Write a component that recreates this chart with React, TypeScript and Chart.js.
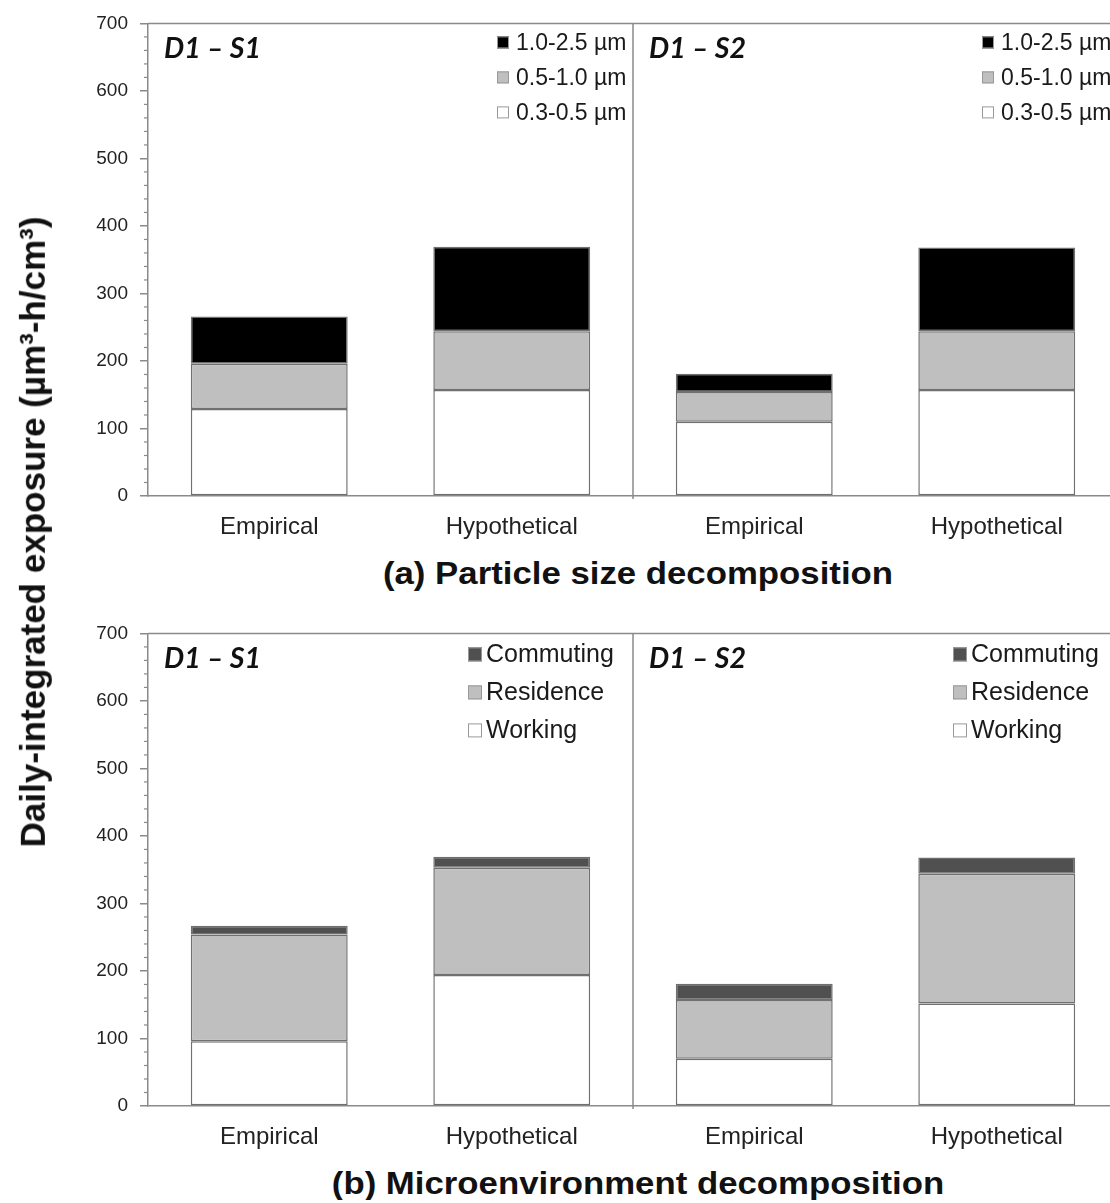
import React, { useEffect, useRef } from 'react';
import { Chart, registerables } from 'chart.js';

Chart.register(...registerables);

// ---------- data ----------
const categories = ['Empirical', 'Hypothetical', 'Empirical', 'Hypothetical'];
const sectionLabels = ['D1 – S1', 'D1 – S2'];

const sizeLabels = ['0.3-0.5 µm', '0.5-1.0 µm', '1.0-2.5 µm'];
const size03to05 = [129, 157, 110, 157];
const size05to10 = [67, 87, 44, 87];
const size10to25 = [70, 125, 27, 124];

const envLabels = ['Working', 'Residence', 'Commuting'];
const working = [96, 194, 70, 152];
const residence = [158, 159, 87, 192];
const commuting = [13, 16, 24, 24];

const yMin = 0;
const yMax = 700;
const yMajorStep = 100;
const yMinorStep = 20;

const panelTitles = ['(a) Particle size decomposition', '(b) Microenvironment decomposition'];
const yAxisTitle = 'Daily-integrated exposure (µm³-h/cm³)';

// ---------- styles ----------
const SANS = "'Liberation Sans', Arial, sans-serif";
const AXIS_GREY = '#8a8a8a';
const BAR_BORDER = '#707070';
const sizeColors = ['#ffffff', '#bfbfbf', '#000000'];
const envColors = ['#ffffff', '#bfbfbf', '#505050'];

interface LegendCfg {
  offsetFromRight: number;
  box: number;
  fontSize: number;
  firstRowY: number;
  rowGap: number;
  textGap: number;
}

const decorPlugin = {
  id: 'panelDecor',
  afterDraw(chart: any, _args: any, opts: any) {
    const { ctx, chartArea } = chart;
    const xs = chart.scales.x;
    const ys = chart.scales.y;
    const { left, right, top, bottom } = chartArea;
    ctx.save();
    // top border
    ctx.strokeStyle = AXIS_GREY;
    ctx.lineWidth = 1.5;
    ctx.beginPath();
    ctx.moveTo(left, top);
    ctx.lineTo(right, top);
    ctx.stroke();
    // minor ticks
    ctx.lineWidth = 1.2;
    for (let v = yMin + yMinorStep; v < yMax; v += yMinorStep) {
      if (v % yMajorStep === 0) continue;
      const py = ys.getPixelForValue(v);
      ctx.beginPath();
      ctx.moveTo(left - 4, py);
      ctx.lineTo(left, py);
      ctx.stroke();
    }
    // divider between sections
    const divX = (xs.getPixelForValue(1) + xs.getPixelForValue(2)) / 2;
    ctx.lineWidth = 1.5;
    ctx.beginPath();
    ctx.moveTo(divX, top);
    ctx.lineTo(divX, bottom + 3);
    ctx.stroke();

    const sections = [
      { l: left, r: divX },
      { l: divX, r: right },
    ];
    const lg: LegendCfg = opts.legend;
    const dsets = chart.data.datasets;
    sections.forEach((sec, si) => {
      // section label
      ctx.fillStyle = '#111';
      ctx.font = "italic bold 28.5px Lato, 'Open Sans', sans-serif";
      ctx.textAlign = 'left';
      ctx.textBaseline = 'middle';
      ctx.fillText(opts.sectionLabels[si], sec.l + 16, top + 25);
      // legend (reverse order)
      const bx = sec.r - lg.offsetFromRight;
      ctx.font = `${lg.fontSize}px ${SANS}`;
      for (let k = 0; k < dsets.length; k++) {
        const ds = dsets[dsets.length - 1 - k];
        const cy = top + lg.firstRowY + k * lg.rowGap;
        ctx.fillStyle = ds.backgroundColor;
        ctx.fillRect(bx, cy - lg.box / 2, lg.box, lg.box);
        ctx.strokeStyle = '#999';
        ctx.lineWidth = 1;
        ctx.strokeRect(bx + 0.5, cy - lg.box / 2 + 0.5, lg.box - 1, lg.box - 1);
        ctx.fillStyle = '#1a1a1a';
        ctx.fillText(ds.label, bx + lg.box + lg.textGap, cy + 1);
      }
    });
    ctx.restore();
  },
};

function Panel(props: {
  labels: string[];
  series: number[][];
  colors: string[];
  legend: LegendCfg;
}) {
  const ref = useRef<HTMLCanvasElement | null>(null);
  useEffect(() => {
    if (!ref.current) return;
    const chart = new Chart(ref.current, {
      type: 'bar',
      data: {
        labels: categories,
        datasets: props.series.map((d, i) => ({
          label: props.labels[i],
          data: d,
          backgroundColor: props.colors[i],
          borderColor: BAR_BORDER,
          borderWidth: 1.5,
          borderSkipped: false,
          barPercentage: 0.647,
          categoryPercentage: 1,
        })),
      },
      options: {
        animation: false,
        responsive: false,
        maintainAspectRatio: false,
        layout: { padding: { top: 20, left: 0, right: 0, bottom: 0 } },
        plugins: {
          legend: { display: false },
          tooltip: { enabled: false },
          panelDecor: { legend: props.legend, sectionLabels },
        } as any,
        scales: {
          x: {
            stacked: true,
            grid: { display: false, drawTicks: false },
            border: { display: true, color: AXIS_GREY, width: 1.5 },
            ticks: { font: { family: SANS, size: 24 }, color: '#222', padding: 17 },
            afterFit: (s: any) => {
              s.height = 54;
            },
          },
          y: {
            stacked: true,
            min: yMin,
            max: yMax,
            ticks: { stepSize: yMajorStep, font: { family: SANS, size: 19 }, color: '#222', padding: 12 },
            grid: { drawOnChartArea: false, drawTicks: true, tickLength: 8, color: AXIS_GREY, lineWidth: 1.5 },
            border: { display: true, color: AXIS_GREY, width: 1.5 },
            afterFit: (s: any) => {
              s.width = 148;
            },
          },
        },
      },
      plugins: [decorPlugin],
    });
    return () => chart.destroy();
  }, []);
  return <canvas ref={ref} width={1118} height={550} style={{ display: 'block' }} />;
}

export default function App() {
  const textStyle: React.CSSProperties = {
    position: 'absolute',
    fontFamily: SANS,
    fontWeight: 'bold',
    color: '#111',
    whiteSpace: 'nowrap',
    lineHeight: 1.15,
  };
  return (
    <div
      style={{
        position: 'absolute',
        left: 0,
        top: 0,
        width: 1110,
        height: 1200,
        overflow: 'hidden',
        background: '#fff',
      }}
    >
      <div style={{ position: 'absolute', left: 0, top: 0 }}>
        <Panel
          labels={sizeLabels}
          series={[size03to05, size05to10, size10to25]}
          colors={sizeColors}
          legend={{ offsetFromRight: 136, box: 12, fontSize: 23, firstRowY: 19, rowGap: 35, textGap: 7 }}
        />
      </div>
      <div style={{ position: 'absolute', left: 0, top: 610 }}>
        <Panel
          labels={envLabels}
          series={[working, residence, commuting]}
          colors={envColors}
          legend={{ offsetFromRight: 165, box: 14, fontSize: 25, firstRowY: 21, rowGap: 38, textGap: 4 }}
        />
      </div>
      <div
        style={{
          ...textStyle,
          left: 638,
          top: 574,
          fontSize: 30.5,
          transform: 'translate(-50%, -50%) scaleX(1.14)',
        }}
      >
        {panelTitles[0]}
      </div>
      <div
        style={{
          ...textStyle,
          left: 638,
          top: 1184,
          fontSize: 30.5,
          transform: 'translate(-50%, -50%) scaleX(1.14)',
        }}
      >
        {panelTitles[1]}
      </div>
      <div
        style={{
          ...textStyle,
          left: 33,
          top: 532,
          fontSize: 35,
          transform: 'translate(-50%, -50%) rotate(-90deg)',
        }}
      >
        {yAxisTitle}
      </div>
    </div>
  );
}
